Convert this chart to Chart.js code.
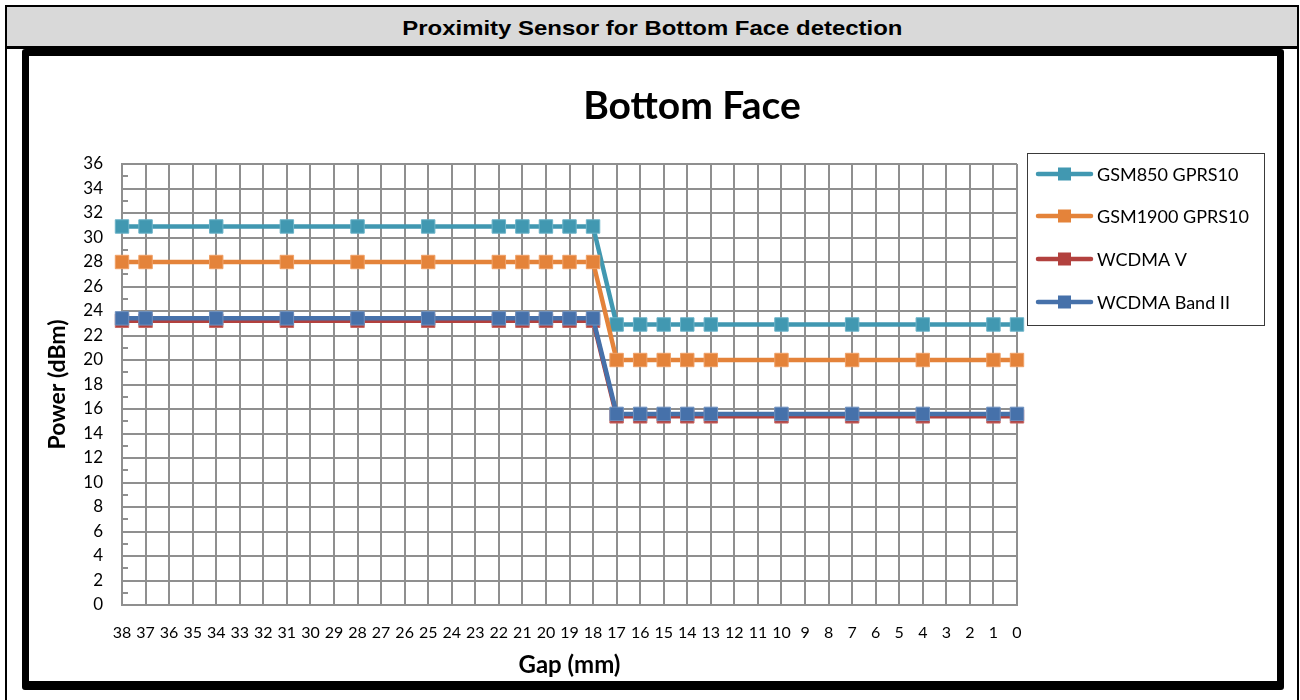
<!DOCTYPE html>
<html><head><meta charset="utf-8">
<script src="https://cdn.jsdelivr.net/npm/chart.js@4.4.1/dist/chart.umd.min.js"></script>
<style>
html,body{margin:0;padding:0;background:#fff;width:1300px;height:700px;overflow:hidden;}
#outer{position:absolute;left:5px;top:5px;width:1290px;height:720px;border:2px solid #000;}
#header{position:absolute;left:7px;top:7px;width:1290px;height:39px;background:#d9d9d9;border-bottom:3px solid #000;text-align:center;color:#000;}
#header span{display:inline-block;font:bold 21px "Liberation Sans",Arial,sans-serif;line-height:41px;transform:scaleX(1.14);transform-origin:center;}
#box{position:absolute;left:22px;top:49px;width:1248px;height:625px;border:7px solid #000;border-bottom-width:9px;border-radius:3px;background:#fff;}
#box canvas{position:absolute;left:0;top:0;}
</style></head>
<body>
<div id="outer"></div>
<div id="header"><span>Proximity Sensor for Bottom Face detection</span></div>
<div id="box"><canvas id="c" width="1248" height="625"></canvas></div>
<script>
// Category axis (gap in mm)
const gaps = ['38','37','36','35','34','33','32','31','30','29','28','27','26','25','24','23','22','21','20','19','18','17','16','15','14','13','12','11','10','9','8','7','6','5','4','3','2','1','0'];
// Gaps where a measurement was taken
const measuredGaps = ['38','37','34','31','28','25','22','21','20','19','18','17','16','15','14','13','10','7','4','1','0'];
// Power values (dBm) at the measured gaps
const gsm850 = [30.9,30.9,30.9,30.9,30.9,30.9,30.9,30.9,30.9,30.9,30.9,22.9,22.9,22.9,22.9,22.9,22.9,22.9,22.9,22.9,22.9];
const gsm1900 = [28.0,28.0,28.0,28.0,28.0,28.0,28.0,28.0,28.0,28.0,28.0,20.0,20.0,20.0,20.0,20.0,20.0,20.0,20.0,20.0,20.0];
const wcdmaV = [23.2,23.2,23.2,23.2,23.2,23.2,23.2,23.2,23.2,23.2,23.2,15.4,15.4,15.4,15.4,15.4,15.4,15.4,15.4,15.4,15.4];
const wcdmaBand2 = [23.4,23.4,23.4,23.4,23.4,23.4,23.4,23.4,23.4,23.4,23.4,15.6,15.6,15.6,15.6,15.6,15.6,15.6,15.6,15.6,15.6];
const seriesNames = ['GSM850 GPRS10','GSM1900 GPRS10','WCDMA V','WCDMA Band II'];
const chartTitle = 'Bottom Face';
// y-axis
const yMin = 0, yMax = 36, yStep = 2;

const colors = ['#4198B1','#E4833A','#B2413E','#4671AA'];
const pointBorders = ['#6BB3C8','#F0A066','#C86A67','#6E90BE'];
const allSeries = [gsm850, gsm1900, wcdmaV, wcdmaBand2];
const orders = [3,2,1,0];

function toPoints(vals){ return measuredGaps.map((g,i)=>({x:g,y:vals[i]})); }

const datasets = allSeries.map((vals,i)=>({
  label: seriesNames[i],
  data: toPoints(vals),
  borderColor: colors[i],
  backgroundColor: colors[i],
  borderWidth: 4.5,
  pointStyle: 'rect',
  pointRadius: 9.5,
  pointBorderWidth: 1,
  pointBorderColor: pointBorders[i],
  pointBackgroundColor: colors[i],
  tension: 0,
  order: orders[i]
}));

const FONT = 'Lato, "Open Sans", sans-serif';

const minorTicks = {
  id:'minorTicks',
  beforeDatasetsDraw(chart){
    const y = chart.scales.y, ctx = chart.ctx, left = chart.chartArea.left;
    ctx.save();
    ctx.strokeStyle = '#8f8f8f'; ctx.lineWidth = 2;
    for(let v = yMin + yStep/2; v < yMax; v += yStep){
      const py = Math.round(y.getPixelForValue(v));
      ctx.beginPath(); ctx.moveTo(left, py); ctx.lineTo(left + 6, py); ctx.stroke();
    }
    ctx.restore();
  }
};

const titleAndLegend = {
  id:'titleAndLegend',
  afterDraw(chart){
    const ctx = chart.ctx;
    ctx.save();
    ctx.fillStyle = '#000';
    ctx.font = 'bold 39px ' + FONT;
    ctx.textAlign = 'center'; ctx.textBaseline = 'middle';
    ctx.fillText(chartTitle, 663, 50);

    const bx = 998.5, by = 97.5, bw = 237, bh = 172;
    ctx.strokeStyle = '#3a3a3a'; ctx.lineWidth = 1;
    ctx.strokeRect(bx, by, bw, bh);
    const rows = [118, 160, 203, 246];
    chart.data.datasets.forEach((ds,i)=>{
      const cy = rows[i];
      ctx.strokeStyle = ds.borderColor; ctx.lineWidth = 4.5; ctx.lineCap = 'round';
      ctx.beginPath(); ctx.moveTo(1009, cy); ctx.lineTo(1062, cy); ctx.stroke();
      ctx.fillStyle = ds.pointBackgroundColor;
      ctx.fillRect(1029, cy-6.5, 13, 13);
      ctx.fillStyle = '#000';
      ctx.font = '18px ' + FONT;
      ctx.textBaseline = 'middle'; ctx.textAlign = 'left';
      ctx.fillText(ds.label, 1068, cy+1);
    });
    ctx.restore();
  }
};

new Chart(document.getElementById('c'), {
  type:'line',
  data:{ labels: gaps, datasets },
  options:{
    responsive:false, animation:false, events:[],
    layout:{padding:{left:0,right:260,top:108,bottom:0}},
    plugins:{
      legend:{display:false},
      tooltip:{enabled:false},
      title:{display:false}
    },
    scales:{
      x:{
        type:'category', offset:false,
        grid:{color:'#8f8f8f',lineWidth:2,drawTicks:false},
        border:{color:'#8f8f8f',width:2},
        ticks:{autoSkip:false,maxRotation:0,minRotation:0,padding:18,color:'#000',font:{family:FONT,size:16}},
        title:{display:true,text:'Gap (mm)',color:'#000',font:{family:FONT,size:24,weight:'bold'},padding:{top:0,bottom:1}},
        afterFit(s){ s.height = 76; }
      },
      y:{
        min:yMin, max:yMax,
        grid:{color:'#8f8f8f',lineWidth:2,drawTicks:false},
        border:{color:'#8f8f8f',width:2},
        ticks:{stepSize:yStep,padding:19,color:'#000',font:{family:FONT,size:17}},
        title:{display:true,text:'Power (dBm)',color:'#000',font:{family:FONT,size:23,weight:'bold'},padding:{top:15,bottom:0}},
        afterFit(s){ s.width = 93; }
      }
    }
  },
  plugins:[minorTicks, titleAndLegend]
});
</script>
</body></html>
